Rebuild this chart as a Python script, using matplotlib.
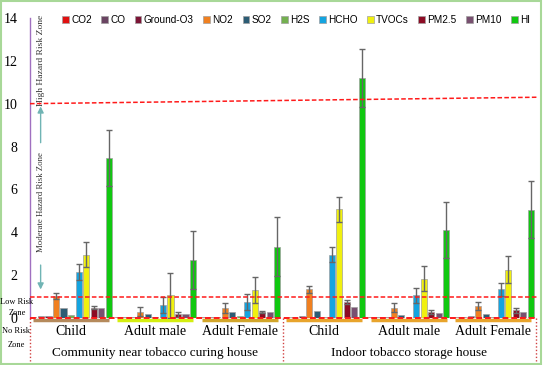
import numpy as np
import matplotlib.pyplot as plt
from matplotlib.patches import Rectangle

# data
pollutants = ["CO2", "CO", "Ground-O3", "NO2", "SO2", "H2S", "HCHO", "TVOCs", "PM2.5", "PM10", "HI"]
groups = ["Child", "Adult male", "Adult Female", "Child", "Adult male", "Adult Female"]
sites = ["Community near tobacco curing house", "Indoor tobacco storage house"]

# values per group (rows) and pollutant (columns)
values = [
    [0.05, 0.08, 0.08, 1.02, 0.46, 0.14, 2.15, 2.96, 0.48, 0.48, 7.45],
    [0.03, 0.04, 0.05, 0.30, 0.20, 0.06, 0.60, 1.06, 0.17, 0.20, 2.70],
    [0.04, 0.04, 0.05, 0.46, 0.27, 0.10, 0.76, 1.30, 0.27, 0.27, 3.33],
    [0.04, 0.05, 0.10, 1.33, 0.34, 0.06, 2.96, 5.08, 0.75, 0.52, 11.20],
    [0.03, 0.03, 0.04, 0.48, 0.15, 0.02, 1.06, 1.84, 0.29, 0.25, 4.10],
    [0.04, 0.05, 0.08, 0.57, 0.20, 0.04, 1.33, 2.25, 0.35, 0.30, 5.05],
]
errors = [
    [0.0, 0.0, 0.0, 0.15, 0.0, 0.0, 0.38, 0.60, 0.07, 0.0, 1.30],
    [0.0, 0.0, 0.0, 0.20, 0.0, 0.0, 0.38, 1.05, 0.12, 0.0, 1.34],
    [0.0, 0.0, 0.0, 0.24, 0.0, 0.0, 0.38, 0.60, 0.05, 0.0, 1.36],
    [0.0, 0.0, 0.0, 0.18, 0.0, 0.0, 0.33, 0.58, 0.09, 0.0, 1.35],
    [0.0, 0.0, 0.0, 0.22, 0.0, 0.0, 0.36, 0.60, 0.10, 0.0, 1.30],
    [0.0, 0.0, 0.0, 0.19, 0.0, 0.0, 0.32, 0.62, 0.10, 0.0, 1.34],
]
underline_colors = ["#b58a5c", "#d4ee10", "#d2a62a", "#e8a42c", "#e8a42c", "#e8a42c"]
colors = ["#e01010", "#6a4462", "#7c1436", "#f08020", "#2c5c74", "#74b050",
          "#14a4e0", "#f0f010", "#8c0c24", "#785070", "#10c810"]

values = np.array(values)
errors = np.array(errors)

fig = plt.figure(figsize=(5.43, 3.65), dpi=100)
ax = fig.add_axes([30 / 543, 47 / 365, 507 / 543, 308 / 365])

slot = 0.089
width = 0.072
centers = np.arange(len(groups))
for j, name in enumerate(pollutants):
    x = centers + (j - 5) * slot
    ax.bar(x, values[:, j], width, color=colors[j], edgecolor="#a0a0a0", linewidth=0.5,
           label=name, zorder=3)
    mask = errors[:, j] > 0
    ax.errorbar(x[mask], values[mask, j], yerr=errors[mask, j], fmt="none",
                ecolor="#666666", elinewidth=1.0, capsize=2.2, capthick=1.0, zorder=4)

ax.set_xlim(-0.486, 5.52)
ax.set_ylim(0, 14.37)
ax.set_yticks(np.arange(0, 15, 2))
ax.set_yticklabels([str(v) for v in range(0, 15, 2)], fontfamily="Liberation Serif", fontsize=10)
ax.tick_params(axis="y", length=0, pad=9)
ax.set_xticks([])
for s in ax.spines.values():
    s.set_visible(False)

# risk lines
red = "#ff1a1a"
ax.plot([-0.486, 5.52], [0, 0], color=red, ls=(0, (3, 1.5)), lw=1.4, zorder=5, clip_on=False)
ax.plot([-0.486, 5.52], [1.0, 1.0], color=red, ls=(0, (3, 1.5)), lw=1.1, zorder=5)
ax.plot([-0.486, 5.52], [10.0, 10.3], color=red, ls=(0, (3, 1.5)), lw=1.1, zorder=5)

# purple y line
ax.plot([-0.486, -0.486], [0, 14.0], color="#a070c0", lw=1.0, clip_on=False)

# group underlines and labels
tr = ax.get_xaxis_transform()
for i, g in enumerate(groups):
    ax.plot([centers[i] - 0.45, centers[i] + 0.45], [-0.007, -0.007], transform=tr,
            color=underline_colors[i], lw=2.5, clip_on=False, solid_capstyle="butt")
    ax.text(centers[i], -0.045, g, transform=tr, ha="center", va="center",
            fontfamily="Liberation Serif", fontsize=10)
ax.text(1.0, -0.113, sites[0], transform=tr, ha="center", va="center",
        fontfamily="Liberation Serif", fontsize=9.5)
ax.text(4.0, -0.113, sites[1], transform=tr, ha="center", va="center",
        fontfamily="Liberation Serif", fontsize=9.5)
for xv in [-0.486, 2.51, 5.51]:
    ax.plot([xv, xv], [0, -0.14], transform=tr, color="#d04040", ls=(0, (1, 1.5)),
            lw=1.0, clip_on=False)

# zone annotations
ax.text(-0.36, 12.0, "High Hazard Risk Zone", rotation=90, ha="center", va="center",
        fontfamily="Liberation Serif", fontsize=6.8, color="#333333")
ax.text(-0.36, 5.4, "Moderate Hazard Risk Zone", rotation=90, ha="center", va="center",
        fontfamily="Liberation Serif", fontsize=6.3, color="#333333")
ax.annotate("", xy=(-0.36, 10.0), xytext=(-0.36, 8.05),
            arrowprops=dict(arrowstyle="-|>", color="#70b4b4", lw=1.0, mutation_scale=9))
ax.annotate("", xy=(-0.36, 1.2), xytext=(-0.36, 2.6),
            arrowprops=dict(arrowstyle="-|>", color="#70b4b4", lw=1.0, mutation_scale=9))
fig.text(17 / 543, 1 - 302 / 365, "Low Risk", ha="center", va="center",
         fontfamily="Liberation Serif", fontsize=6)
fig.text(17 / 543, 1 - 313 / 365, "Zone", ha="center", va="center",
         fontfamily="Liberation Serif", fontsize=6)
fig.text(16 / 543, 1 - 331 / 365, "No Risk", ha="center", va="center",
         fontfamily="Liberation Serif", fontsize=6)
fig.text(16 / 543, 1 - 345 / 365, "Zone", ha="center", va="center",
         fontfamily="Liberation Serif", fontsize=6)

leg = ax.legend(loc="upper center", bbox_to_anchor=(0.525, 1.012), ncol=11, frameon=False,
                prop={"family": "Liberation Sans", "size": 7.2}, handlelength=0.65,
                handleheight=0.65, handletextpad=0.25, columnspacing=0.95)

# light green outer frame
fig.patches.append(Rectangle((0.002, 0.003), 0.995, 0.994, transform=fig.transFigure,
                             fill=False, edgecolor="#a8d898", lw=1.5))

fig.savefig("out.png", dpi=100)
